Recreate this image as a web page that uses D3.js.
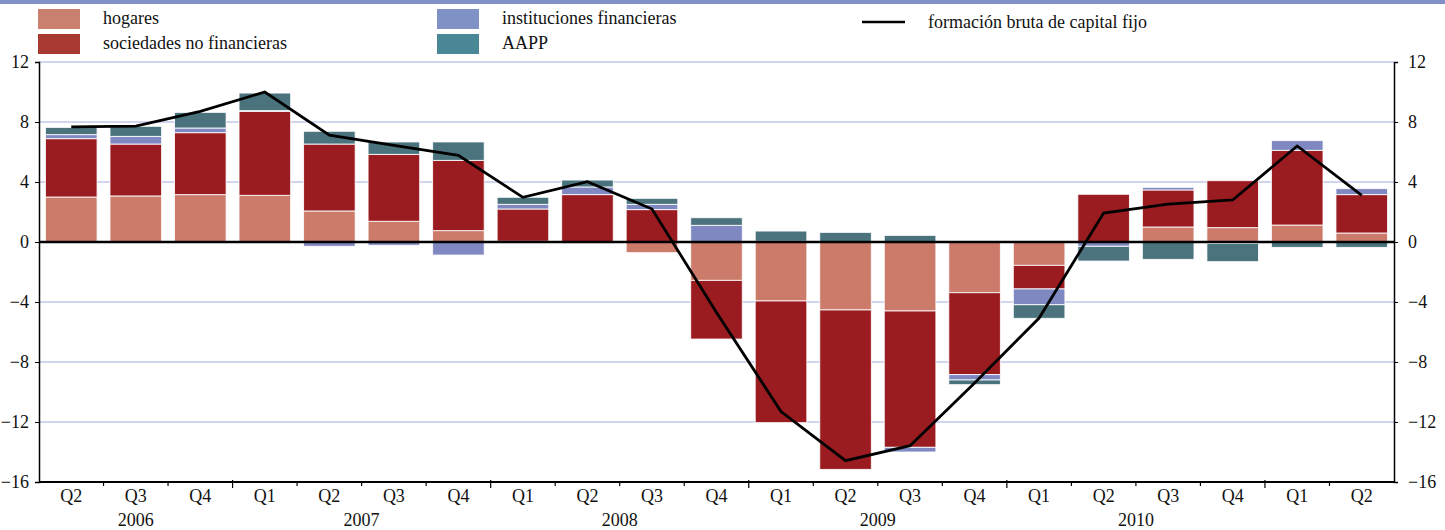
<!DOCTYPE html>
<html>
<head>
<meta charset="utf-8">
<script src="https://cdn.jsdelivr.net/npm/d3@7"></script>
<style>
  body { margin: 0; background: #fff; }
  svg text { font-family: "Times New Roman", "Liberation Serif", "DejaVu Serif", serif !important; fill: #111; }
</style>
</head>
<body>
<div id="chart"></div>
<script>
// quarters 2006Q2 .. 2011Q2
var quarters = ["Q2","Q3","Q4","Q1","Q2","Q3","Q4","Q1","Q2","Q3","Q4","Q1","Q2","Q3","Q4","Q1","Q2","Q3","Q4","Q1","Q2"];
var years = ["2006","2007","2008","2009","2010"];
var yearCenters = [1, 4.5, 8.5, 12.5, 16.5];   // band index the year label sits under
var yearBreaks = [3, 7, 11, 15, 19];

var hogares = [3.0, 3.07, 3.16, 3.11, 2.07, 1.38, 0.76, 0.05, -0.1, -0.71, -2.56, -3.93, -4.53, -4.6, -3.38, -1.56, 0.0, 1.0, 0.96, 1.13, 0.6];
var sociedades = [3.89, 3.46, 4.13, 5.6, 4.46, 4.46, 4.68, 2.15, 3.16, 2.16, -3.91, -8.11, -10.63, -9.09, -5.46, -1.57, 3.18, 2.47, 3.13, 4.98, 2.56];
var instituciones = [0.27, 0.51, 0.31, 0.05, -0.29, -0.22, -0.87, 0.31, 0.51, 0.35, 1.11, 0.05, 0.0, -0.31, -0.36, -1.05, -0.29, 0.17, -0.1, 0.65, 0.4];
var aapp = [0.48, 0.67, 1.04, 1.17, 0.85, 0.83, 1.23, 0.47, 0.46, 0.4, 0.51, 0.68, 0.64, 0.44, -0.31, -0.91, -0.98, -1.16, -1.21, -0.36, -0.36];
var fbcf = [7.67, 7.73, 8.71, 10.0, 7.13, 6.44, 5.78, 2.98, 4.02, 2.2, -4.7, -11.3, -14.58, -13.58, -9.4, -5.07, 1.93, 2.53, 2.8, 6.4, 3.11];

var yTicks = [12, 8, 4, 0, -4, -8, -12, -16];

var width = 1445, height = 530;
var margin = {top: 62, right: 51, bottom: 48, left: 39};
var font = "'Times New Roman', 'Liberation Serif', serif";

var keys = ["hogares", "sociedades", "instituciones", "aapp"];
var barColor = {hogares: "#cc7a6a", sociedades: "#9a1c20", instituciones: "#8088c2", aapp: "#4a737d"};
var legendColor = {hogares: "#c9806f", sociedades: "#a83a33", instituciones: "#8091c6", aapp: "#4b8897"};
var labels = {hogares: "hogares", sociedades: "sociedades no financieras", instituciones: "instituciones financieras", aapp: "AAPP"};

var rows = quarters.map(function (q, i) {
  return {i: i, hogares: hogares[i], sociedades: sociedades[i], instituciones: instituciones[i], aapp: aapp[i]};
});

var svg = d3.select("#chart").append("svg")
  .attr("width", width).attr("height", height)
  .attr("font-family", font);

// top rule
svg.append("rect").attr("x", 0).attr("y", 0).attr("width", width).attr("height", 4).attr("fill", "#8190c6");

var x = d3.scaleBand()
  .domain(d3.range(quarters.length))
  .range([margin.left, width - margin.right])
  .paddingInner(0.2).paddingOuter(0.1);

var y = d3.scaleLinear().domain([-16, 12]).range([height - margin.bottom, margin.top]);

// gridlines
svg.append("g").selectAll("line")
  .data(yTicks.filter(function (t) { return t !== 0 && t !== -16; }))
  .enter().append("line")
  .attr("x1", margin.left).attr("x2", width - margin.right)
  .attr("y1", function (d) { return y(d); }).attr("y2", function (d) { return y(d); })
  .attr("stroke", "#a6acdf").attr("stroke-width", 1.2);

// stacked bars
var stack = d3.stack().keys(keys).offset(d3.stackOffsetDiverging);
var series = stack(rows);

svg.append("g").selectAll("g")
  .data(series)
  .enter().append("g")
  .attr("fill", function (d) { return barColor[d.key]; })
  .selectAll("rect")
  .data(function (d) { return d; })
  .enter().append("rect")
  .filter(function (d) { return Math.abs(d[1] - d[0]) > 0.001; })
  .attr("x", function (d) { return x(d.data.i); })
  .attr("width", x.bandwidth())
  .attr("y", function (d) { return y(Math.max(d[0], d[1])); })
  .attr("height", function (d) { return Math.abs(y(d[0]) - y(d[1])); })
  .attr("stroke", "#ffffff").attr("stroke-opacity", 0.85).attr("stroke-width", 1);

// zero line
svg.append("line")
  .attr("x1", margin.left).attr("x2", width - margin.right)
  .attr("y1", y(0)).attr("y2", y(0))
  .attr("stroke", "#000").attr("stroke-width", 2.5);

// fbcf line
var line = d3.line()
  .x(function (d, i) { return x(i) + x.bandwidth() / 2; })
  .y(function (d) { return y(d); });

svg.append("path").datum(fbcf)
  .attr("d", line).attr("fill", "none")
  .attr("stroke", "#000").attr("stroke-width", 2.8).attr("stroke-linejoin", "miter");

// axes
var left = svg.append("g").attr("transform", "translate(" + margin.left + ",0)")
  .call(d3.axisLeft(y).tickValues(yTicks).tickSize(4).tickPadding(6).tickFormat(d3.format("d")));
var right = svg.append("g").attr("transform", "translate(" + (width - margin.right) + ",0)")
  .call(d3.axisRight(y).tickValues(yTicks).tickSize(4).tickPadding(10).tickFormat(d3.format("d")));
[left, right].forEach(function (a) {
  a.attr("font-family", font).attr("font-size", 18);
  a.select(".domain").attr("stroke", "#000").attr("stroke-width", 1.5);
});

// bottom axis
var bottomY = y(-16);
var bottom = svg.append("g").attr("font-size", 18);
bottom.append("line")
  .attr("x1", margin.left).attr("x2", width - margin.right)
  .attr("y1", bottomY).attr("y2", bottomY)
  .attr("stroke", "#000").attr("stroke-width", 2);

var step = x.step();
bottom.selectAll("line.tick")
  .data(d3.range(1, quarters.length))
  .enter().append("line")
  .attr("class", "tick")
  .attr("x1", function (d) { return margin.left + d * step; })
  .attr("x2", function (d) { return margin.left + d * step; })
  .attr("y1", function (d) { return yearBreaks.indexOf(d) >= 0 ? bottomY - 2 : bottomY; })
  .attr("y2", function (d) { return yearBreaks.indexOf(d) >= 0 ? bottomY + 6 : bottomY + 4; })
  .attr("stroke", "#000").attr("stroke-width", 1.2);

bottom.selectAll("text.q")
  .data(quarters)
  .enter().append("text")
  .attr("class", "q")
  .attr("x", function (d, i) { return x(i) + x.bandwidth() / 2; })
  .attr("y", bottomY + 20)
  .attr("text-anchor", "middle")
  .text(function (d) { return d; });

bottom.selectAll("text.yr")
  .data(years)
  .enter().append("text")
  .attr("class", "yr")
  .attr("x", function (d, i) { return margin.left + (yearCenters[i] + 0.5) * step; })
  .attr("y", bottomY + 44)
  .attr("text-anchor", "middle")
  .text(function (d) { return d; });

// legend
var legendPos = {
  hogares: [38, 9], sociedades: [38, 34],
  instituciones: [437, 9], aapp: [437, 34]
};
var lg = svg.append("g").attr("font-size", 18);
keys.forEach(function (k) {
  var p = legendPos[k];
  lg.append("rect").attr("x", p[0]).attr("y", p[1]).attr("width", 42).attr("height", 20)
    .attr("fill", legendColor[k]);
  lg.append("text").attr("x", p[0] + 65).attr("y", p[1] + 15)
    .text(labels[k]);
});
lg.append("line").attr("x1", 862).attr("x2", 905).attr("y1", 22).attr("y2", 22)
  .attr("stroke", "#000").attr("stroke-width", 2.5);
lg.append("text").attr("x", 928).attr("y", 28)
  .text("formación bruta de capital fijo");
</script>
</body>
</html>
